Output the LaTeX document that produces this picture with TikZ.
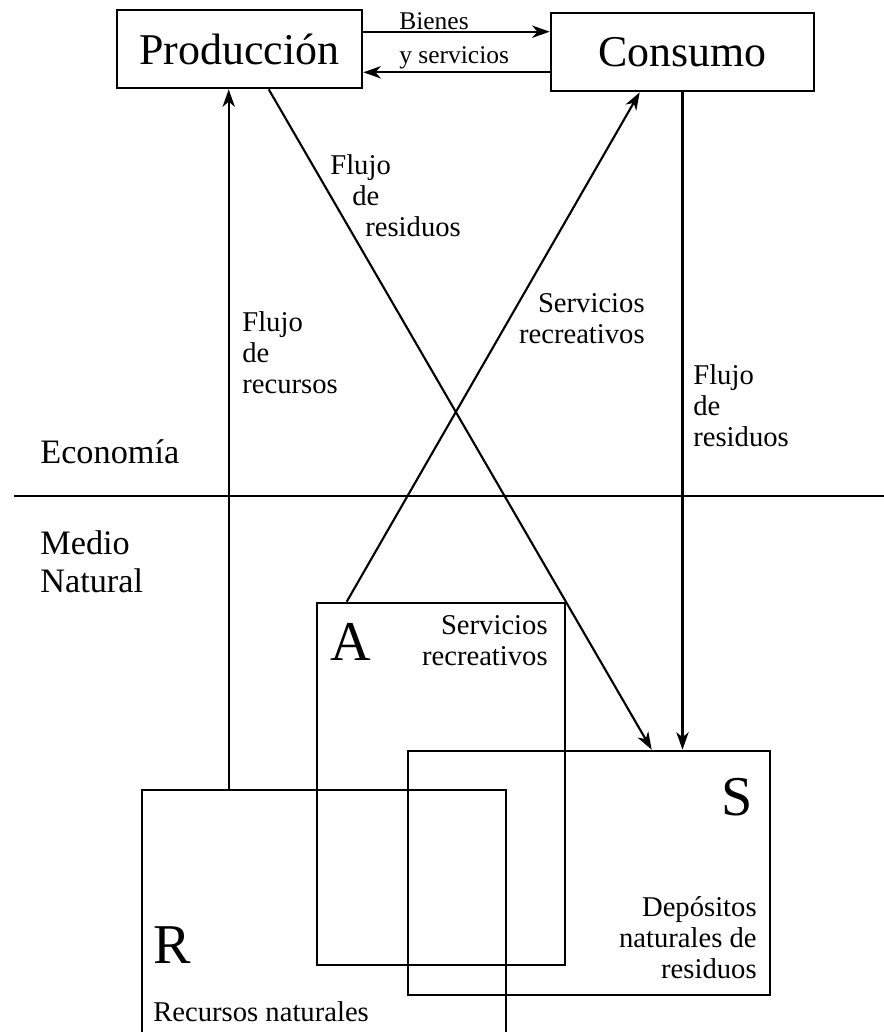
\documentclass[tikz,border=0pt]{standalone}
\usepackage{fontspec}
\setmainfont{Liberation Serif}
\usetikzlibrary{arrows.meta, calc}
\tikzstyle{caja}   = [draw, rectangle, line width=1.5pt, inner sep=0pt]
\tikzstyle{flecha} = [draw, line width=1.2pt, -{Stealth[length=10pt, width=7pt, inset=3pt]}]
\tikzstyle{etiq}   = [inner sep=0pt, font=\fontsize{16.3}{17.6}\selectfont]
\tikzstyle{letra}  = [inner sep=0pt, font=\fontsize{32}{36}\selectfont]

\begin{document}
\begin{tikzpicture}[x=0.02cm, y=-0.02cm]
\useasboundingbox (0,0) rectangle (884,1032);

% economia
\node [caja, minimum width=4.9cm,  minimum height=1.56cm, font=\fontsize{25}{29}\selectfont] at (239.5, 49) (prod) {Producción};
\node [caja, minimum width=5.26cm, minimum height=1.56cm, font=\fontsize{25}{29}\selectfont] at (682.5, 52) (cons) {Consumo};

% medio natural
\node [caja, minimum width=4.96cm, minimum height=7.24cm] at (441, 784) (A) {};
\node [caja, minimum width=7.24cm, minimum height=4.88cm] at (589, 873) (S) {};
\node [caja, minimum width=7.28cm, minimum height=4.92cm] at (324, 913) (R) {};

% frontera
\coordinate (izq) at (14, 496);
\coordinate (der) at (884, 496);
\draw [line width=1.5pt] (izq) -- (der);

% flechas
\coordinate (b1) at ($(prod.north east)+(0,23)$);
\coordinate (b2) at ($(cons.south west)+(0,-20)$);
\coordinate (r1) at ($(R.north west)+(88,0)$);
\draw [flecha] (b1) -- (b1 -| cons.west);
\draw [flecha] (b2) -- (b2 -| prod.east);
\draw [flecha] (r1) -- (r1 |- prod.south);
\draw [flecha] ($(prod.south west)+(153,0)$) -- ($(S.north west)+(245,0)$);
\draw [flecha] ($(A.north west)+(31,0)$)    -- ($(cons.south west)+(90,0)$);
\draw [flecha] (cons.south) -- (cons.south |- S.north);

% etiquetas
\node [inner sep=0pt, align=left, anchor=north west, font=\fontsize{14.5}{19.3}\selectfont] at (399, 12) (bienes) {Bienes\\y servicios};
\node [etiq, align=left,  anchor=north west] at (330, 154) (flres1) {Flujo\\\hspace*{0.44cm}de\\\hspace*{0.7cm}residuos};
\node [etiq, align=left,  anchor=north west] at (242, 311) (flrec)  {Flujo\\de\\recursos};
\node [etiq, align=right, anchor=north east] at (645, 293) (serv1)  {Servicios\\recreativos};
\node [etiq, align=left,  anchor=north west] at (693, 364) (flres2) {Flujo\\de\\residuos};
\node [inner sep=0pt, anchor=base west, font=\fontsize{19.5}{22}\selectfont] at (40, 463) (econ) {Economía};
\node [inner sep=0pt, align=left, anchor=north west, font=\fontsize{19.5}{22}\selectfont] at (40, 530) (medio) {Medio\\Natural};

% conjuntos
\node [letra, anchor=base west] at (330, 660) (letA) {A};
\node [etiq, align=right, anchor=north east] at (548, 615) (servA) {Servicios\\recreativos};
\node [letra, anchor=base east] at (753, 815) (letS) {S};
\node [etiq, align=right, anchor=north east] at (757, 896) (depo) {Depósitos\\naturales de\\residuos};
\node [letra, anchor=base west] at (153, 963) (letR) {R};
\node [etiq, anchor=base west] at (153, 1021) (recu) {Recursos naturales};

\end{tikzpicture}
\end{document}
